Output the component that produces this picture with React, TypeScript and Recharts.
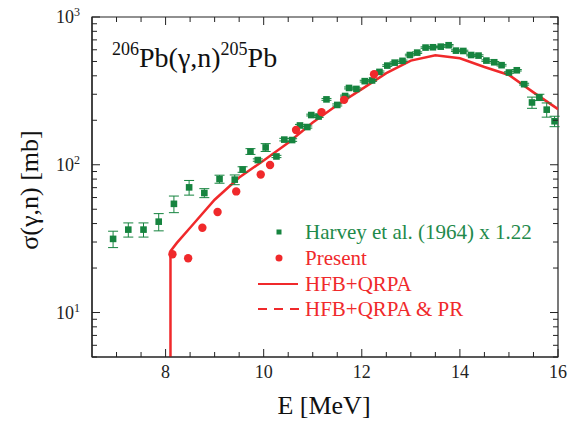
import React from 'react';
import { ComposedChart, XAxis, YAxis, Scatter, Line, ErrorBar, ReferenceArea } from 'recharts';

// Harvey et al. (1964) x 1.22
const harveyE = [6.93, 7.24, 7.55, 7.86, 8.17, 8.48, 8.79, 9.10, 9.41, 9.57, 9.73, 9.88, 10.04, 10.26, 10.42, 10.58, 10.74, 10.89, 10.97, 11.12, 11.28, 11.50, 11.66, 11.74, 11.89, 12.06, 12.21, 12.36, 12.52, 12.67, 12.83, 12.98, 13.13, 13.30, 13.45, 13.61, 13.77, 13.92, 14.07, 14.23, 14.38, 14.54, 14.70, 14.85, 15.00, 15.16, 15.31, 15.47, 15.62, 15.77, 15.93];
const harveySigma = [31.5, 36.4, 36.4, 41.2, 54.4, 70.3, 64.4, 80, 79.3, 92.9, 123, 107.6, 131, 113.8, 148, 147, 184.5, 180, 217, 212, 277, 254, 292, 331, 326, 368, 372, 425, 469, 491, 505, 553, 574, 621, 624, 630, 644, 592, 589, 553, 548, 507, 494, 472, 421, 436, 351, 264, 286, 236, 197];
const harveyErr = [4, 4, 4, 5.5, 7, 8, 4.5, 5, 6, 4, 5.5, 2, 8, 2, 3, 3, 3, 3, 3, 3, 4, 4, 4, 5, 5, 5, 5, 6, 6, 6, 6, 7, 7, 7, 7, 7, 7, 7, 7, 7, 7, 6, 6, 6, 5, 5, 5, 23, 14, 26, 16];

// Present
const presentE = [8.14, 8.46, 8.75, 9.06, 9.44, 9.94, 10.13, 10.66, 11.18, 11.64, 12.25];
const presentSigma = [24.8, 23.3, 37.5, 47.9, 66, 86, 99.6, 172, 227, 275, 410];

// HFB+QRPA
const hfbE = [8.1, 8.1, 8.23, 8.5, 9.0, 9.5, 10.0, 10.5, 11.0, 11.5, 12.0, 12.5, 13.0, 13.5, 14.0, 14.5, 15.0, 15.5, 16.0];
const hfbSigma = [2, 26, 29.6, 37.5, 58, 82, 107, 141, 193, 254, 325, 417, 507, 551, 526, 459, 405, 309, 238];

const xTicks = [7, 7.5, 8, 8.5, 9, 9.5, 10, 10.5, 11, 11.5, 12, 12.5, 13, 13.5, 14, 14.5, 15, 15.5, 16];
const xLabels = [8, 10, 12, 14, 16];
const yTicks = [5, 6, 7, 8, 9, 10, 20, 30, 40, 50, 60, 70, 80, 90, 100, 200, 300, 400, 500, 600, 700, 800, 900, 1000];
const yLabels = [10, 100, 1000];

const GREEN = '#16843f';
const GREEN_TEXT = '#1f8a4b';
const RED = '#f0292b';
const INK = '#222';
const FONT = 'Liberation Serif';

const PLOT = { left: 92, right: 558, top: 17, bottom: 357 };

const harveyData = harveyE.map((e, i) => ({ e, s: harveySigma[i], err: harveyErr[i] }));
const presentData = presentE.map((e, i) => ({ e, s: presentSigma[i] }));
const hfbData = hfbE.map((e, i) => ({ e, s: hfbSigma[i] }));

const XTick = (props: any) => {
  const { x, payload } = props;
  const major = xLabels.includes(payload.value);
  const len = major ? 8 : 5;
  return (
    <g>
      <line x1={x} x2={x} y1={PLOT.bottom} y2={PLOT.bottom - len} stroke={INK} />
      <line x1={x} x2={x} y1={PLOT.top} y2={PLOT.top + len} stroke={INK} />
      {major && (
        <text x={x} y={PLOT.bottom + 21} textAnchor="middle" style={{ fontFamily: FONT, fontSize: 18 }} fill={INK}>
          {payload.value}
        </text>
      )}
    </g>
  );
};

const YTick = (props: any) => {
  const { y, payload } = props;
  const major = yLabels.includes(payload.value);
  const len = major ? 8 : 5;
  const exp = Math.round(Math.log10(payload.value));
  return (
    <g>
      <line x1={PLOT.left} x2={PLOT.left + len} y1={y} y2={y} stroke={INK} />
      <line x1={PLOT.right} x2={PLOT.right - len} y1={y} y2={y} stroke={INK} />
      {major && (
        <text x={80} y={y + 6} textAnchor="end" style={{ fontFamily: FONT, fontSize: 18 }} fill={INK}>
          10
          <tspan style={{ fontSize: 12 }} dy={-7}>{exp}</tspan>
        </text>
      )}
    </g>
  );
};

const Square = (props: any) => {
  const { cx, cy } = props;
  return <rect x={cx - 3.3} y={cy - 3.3} width={6.6} height={6.6} fill={GREEN} />;
};

const Dot = (props: any) => {
  const { cx, cy } = props;
  return <circle cx={cx} cy={cy} r={4.2} fill={RED} />;
};

const T = (size: number) => ({ fontFamily: FONT, fontSize: size });

export default function App() {
  return (
    <div style={{ position: 'absolute', left: 0, top: 0, width: 568, height: 423, background: '#fff' }}>
      <ComposedChart width={568} height={423} margin={{ top: 17, right: 10, bottom: 0, left: 0 }}>
        <XAxis
          dataKey="e"
          type="number"
          domain={[6.5, 16]}
          ticks={xTicks}
          interval={0}
          allowDataOverflow
          height={66}
          tickSize={0}
          tickMargin={0}
          tick={<XTick />}
          axisLine={{ stroke: INK, strokeWidth: 1.2 }}
          tickLine={false}
        />
        <YAxis
          dataKey="s"
          type="number"
          scale="log"
          domain={[5, 1000]}
          ticks={yTicks}
          interval={0}
          allowDataOverflow
          width={92}
          tickSize={0}
          tickMargin={0}
          tick={<YTick />}
          axisLine={{ stroke: INK, strokeWidth: 1.2 }}
          tickLine={false}
        />
        <ReferenceArea x1={6.5} x2={16} y1={5} y2={1000} fill="none" stroke={INK} strokeWidth={1.2} />
        <Line
          data={hfbData}
          dataKey="s"
          type="linear"
          stroke={RED}
          strokeWidth={2.5}
          dot={false}
          activeDot={false}
          isAnimationActive={false}
        />
        <Scatter data={harveyData} dataKey="s" shape={<Square />} isAnimationActive={false}>
          <ErrorBar dataKey="err" direction="y" width={5} stroke={GREEN} strokeWidth={1} isAnimationActive={false} />
        </Scatter>
        <Scatter data={presentData} dataKey="s" shape={<Dot />} isAnimationActive={false} />
      </ComposedChart>
      <svg width={568} height={423} style={{ position: 'absolute', left: 0, top: 0, pointerEvents: 'none' }}>
        <text x={112} y={67} fill="#111" style={T(28)}>
          <tspan style={T(18)} dy={-12}>206</tspan>
          <tspan dy={12}>Pb(γ,n)</tspan>
          <tspan style={T(18)} dy={-12}>205</tspan>
          <tspan dy={12}>Pb</tspan>
        </text>
        <text x={324} y={414} textAnchor="middle" fill="#111" style={T(26)}>
          E [MeV]
        </text>
        <text x={38} y={190} textAnchor="middle" fill="#111" style={T(26)} transform="rotate(-90 38 190)">
          σ(γ,n) [mb]
        </text>
        <rect x={276.5} y={229.5} width={5} height={5} fill={GREEN} />
        <text x={305} y={239} fill={GREEN_TEXT} style={T(21)}>Harvey et al. (1964) x 1.22</text>
        <circle cx={279} cy={258} r={3.5} fill={RED} />
        <text x={305} y={265} fill={RED} style={T(21)}>Present</text>
        <line x1={258} x2={298} y1={284} y2={284} stroke={RED} strokeWidth={2} />
        <text x={305} y={291} fill={RED} style={T(21)}>HFB+QRPA</text>
        <line x1={258} x2={300} y1={309} y2={309} stroke={RED} strokeWidth={2} strokeDasharray="9 7" />
        <text x={305} y={316} fill={RED} style={T(21)}>HFB+QRPA &amp; PR</text>
      </svg>
    </div>
  );
}
